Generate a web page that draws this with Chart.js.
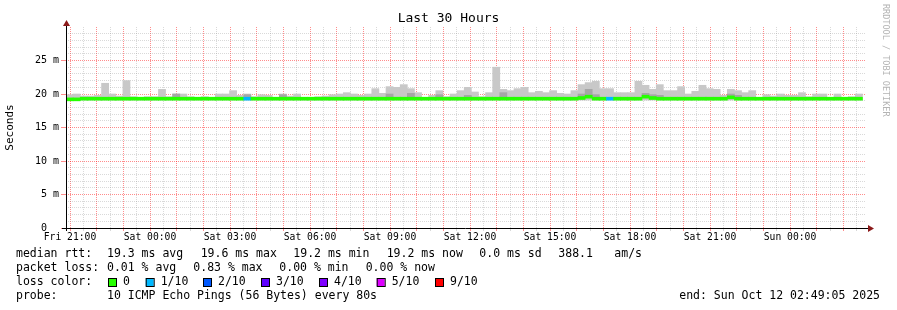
<!DOCTYPE html>
<html>
<head>
<meta charset="utf-8">
<script src="https://cdn.jsdelivr.net/npm/chart.js@4.4.1/dist/chart.umd.min.js"></script>
<style>
  html, body { margin: 0; padding: 0; background: #fff; }
  #wrap { width: 897px; height: 310px; }
</style>
</head>
<body>
<div id="wrap"><canvas id="chart" width="897" height="310"></canvas></div>
<script>
  // one value per 16 minute bin, counted from the graph start (Fri 20:51)
  const binMinutes = 16;
  const smokeHi = [
    19.9, 20.0, 19.7, 19.7, 19.8, 21.6, 20.0, 19.7, 22.0, 19.6,
    19.5, 19.6, 19.6, 20.7, 19.6, 20.0, 20.0, 19.6, 19.5, 19.6,
    19.5, 20.0, 20.0, 20.5, 19.8, 20.0, 19.6, 19.9, 19.8, 19.5,
    20.0, 19.7, 20.0, 19.5, 19.5, 19.6, 19.7, 19.9, 20.0, 20.2,
    20.0, 19.8, 20.0, 20.8, 20.1, 21.1, 21.0, 21.4, 20.8, 20.2,
    19.5, 19.8, 20.5, 19.6, 20.0, 20.5, 21.0, 20.3, 19.6, 20.2,
    24.0, 20.7, 20.5, 20.8, 21.0, 20.2, 20.4, 20.2, 20.5, 20.1,
    20.0, 20.5, 21.4, 21.7, 21.9, 20.8, 20.8, 20.2, 20.2, 20.2,
    21.9, 21.3, 20.7, 21.4, 20.5, 20.5, 21.1, 20.0, 20.4, 21.3,
    20.8, 20.7, 19.8, 20.7, 20.5, 20.2, 20.5, 19.5, 19.9, 19.7,
    20.0, 19.8, 19.8, 20.2, 19.6, 20.0, 20.0, 19.5, 20.0, 19.5,
    19.6, 20.0
  ];
  // darker inner smoke band, null where there is none
  const smokeDark = [
    null, null, null, null, null, null, null, null, null, null,
    null, null, null, null, null, 20.0, null, null, null, null,
    null, null, null, null, null, 19.9, null, null, null, null,
    19.9, null, null, null, null, null, null, null, null, null,
    null, null, null, null, null, 20.0, null, null, 20.1, null,
    null, null, 19.9, null, null, null, 19.8, null, null, null,
    null, 20.2, null, null, null, null, null, null, null, null,
    null, null, 20.0, 20.7, 19.9, null, null, null, null, null,
    null, 20.1, 19.9, 19.8, null, null, null, null, null, null,
    null, null, null, 20.0, 19.8, null, null, null, null, null,
    null, null, null, null, null, null, null, null, null, null,
    null, null
  ];
  const smokeLo = 19.1;
  const median = [
    19.2, 19.2, 19.3, 19.3, 19.3, 19.3, 19.3, 19.3, 19.3, 19.3,
    19.3, 19.3, 19.3, 19.3, 19.3, 19.3, 19.3, 19.3, 19.3, 19.3,
    19.3, 19.3, 19.3, 19.3, 19.3, 19.3, 19.3, 19.3, 19.3, 19.3,
    19.3, 19.3, 19.3, 19.3, 19.3, 19.3, 19.3, 19.3, 19.3, 19.3,
    19.3, 19.3, 19.3, 19.3, 19.3, 19.3, 19.3, 19.3, 19.3, 19.3,
    19.3, 19.3, 19.3, 19.3, 19.3, 19.3, 19.3, 19.3, 19.3, 19.3,
    19.3, 19.3, 19.3, 19.3, 19.3, 19.3, 19.3, 19.3, 19.3, 19.3,
    19.3, 19.3, 19.4, 19.6, 19.3, 19.3, 19.3, 19.3, 19.3, 19.3,
    19.3, 19.6, 19.4, 19.3, 19.3, 19.3, 19.3, 19.3, 19.3, 19.3,
    19.3, 19.3, 19.3, 19.5, 19.3, 19.3, 19.3, 19.3, 19.3, 19.3,
    19.3, 19.3, 19.3, 19.3, 19.3, 19.3, 19.3, 19.3, 19.3, 19.3,
    19.3, 19.3
  ];
  // lost pings out of 10 in each bin
  const lossCount = new Array(112).fill(0);
  lossCount[25] = 1;
  lossCount[76] = 1;

  const lossLabels = ['0', '1/10', '2/10', '3/10', '4/10', '5/10', '9/10'];
  const lossSteps = [0, 1, 2, 3, 4, 5, 9];
  const lossColors = ['#26ff00', '#00b8ff', '#0059ff', '#5e00ff', '#7e00ff', '#dd00ff', '#ff0000'];

  const timeLabels = ['Fri 21:00', 'Sat 00:00', 'Sat 03:00', 'Sat 06:00', 'Sat 09:00',
    'Sat 12:00', 'Sat 15:00', 'Sat 18:00', 'Sat 21:00', 'Sun 00:00'];
  const firstHour = 9;      // minutes from start to Fri 21:00
  const totalMinutes = 1800;
  const yLabels = { 0: '0  ', 5: '5 m', 10: '10 m', 15: '15 m', 20: '20 m', 25: '25 m' };

  function lossColor(n) {
    let c = lossColors[0];
    lossSteps.forEach((s, i) => { if (n >= s) c = lossColors[i]; });
    return c;
  }

  const mid = (i) => i * binMinutes + binMinutes / 2;
  const lightData = smokeHi.map((v, i) => ({ x: mid(i), y: [smokeLo, v] }));
  const darkData = [];
  smokeDark.forEach((v, i) => { if (v !== null) darkData.push({ x: mid(i), y: [median[i], v] }); });
  const medianData = median.map((v, i) => ({ x: mid(i), y: [v - 0.22, v + 0.22] }));

  const mono = '"DejaVu Sans Mono", monospace';
  const gridGray = 'rgba(128,128,128,0.3)';
  const gridRed = 'rgba(255,0,0,0.45)';
  const isHour = (v) => Math.abs((v - firstHour) % 60) < 0.01;

  const decor = {
    id: 'decor',
    afterDraw(chart) {
      const ctx = chart.ctx;
      const { left, right, top, bottom } = chart.chartArea;
      ctx.save();
      ctx.strokeStyle = '#000';
      ctx.lineWidth = 1;
      ctx.beginPath();
      ctx.moveTo(left - 4, bottom + 0.5);
      ctx.lineTo(right + 3, bottom + 0.5);
      ctx.moveTo(left + 0.5, bottom + 3);
      ctx.lineTo(left + 0.5, top - 3);
      ctx.stroke();
      ctx.fillStyle = '#8b1a1a';
      ctx.beginPath();
      ctx.moveTo(right + 8, bottom + 0.5);
      ctx.lineTo(right + 2, bottom - 3);
      ctx.lineTo(right + 2, bottom + 4);
      ctx.fill();
      ctx.beginPath();
      ctx.moveTo(left + 0.5, top - 7);
      ctx.lineTo(left - 3, top - 1);
      ctx.lineTo(left + 4, top - 1);
      ctx.fill();

      ctx.fillStyle = '#000';
      ctx.textBaseline = 'middle';
      ctx.textAlign = 'center';
      ctx.font = '13px ' + mono;
      ctx.fillText('Last 30 Hours', 448.5, 19);

      ctx.textAlign = 'left';
      ctx.font = '11.5px ' + mono;
      const rows = [
        [254, [[16, 'median rtt:'], [107, '19.3 ms avg'], [200.7, '19.6 ms max'], [293.3, '19.2 ms min'],
               [386.7, '19.2 ms now'], [479.3, '0.0 ms sd'], [558.3, '388.1'], [614.3, 'am/s']]],
        [268, [[16, 'packet loss:'], [107, '0.01 % avg'], [193.3, '0.83 % max'], [279.3, '0.00 % min'],
               [365.7, '0.00 % now']]],
        [282, [[16, 'loss color:']]],
        [296, [[16, 'probe:'], [107, '10 ICMP Echo Pings (56 Bytes) every 80s']]]
      ];
      rows.forEach(([y, parts]) => parts.forEach(([x, t]) => ctx.fillText(t, x, y)));

      const boxX = [108, 145.7, 203, 261, 319, 376.7, 435];
      lossLabels.forEach((lab, i) => {
        ctx.fillStyle = lossColors[i];
        ctx.fillRect(boxX[i], 278, 8, 8);
        ctx.strokeStyle = '#000';
        ctx.strokeRect(boxX[i] + 0.5, 278.5, 8, 8);
        ctx.fillStyle = '#000';
        ctx.fillText(lab, boxX[i] + 15, 282);
      });

      ctx.textAlign = 'right';
      ctx.fillText('end: Sun Oct 12 02:49:05 2025', 880, 296);

      ctx.save();
      ctx.translate(883, 4);
      ctx.rotate(Math.PI / 2);
      ctx.textAlign = 'left';
      ctx.textBaseline = 'alphabetic';
      ctx.font = '8.5px ' + mono;
      ctx.fillStyle = '#b4b4b4';
      ctx.fillText('RRDTOOL / TOBI OETIKER', 0, 0);
      ctx.restore();
      ctx.restore();
    }
  };

  new Chart(document.getElementById('chart'), {
    type: 'bar',
    data: {
      datasets: [
        { data: medianData, backgroundColor: median.map((v, i) => lossColor(lossCount[i])), order: 0 },
        { data: darkData, backgroundColor: '#a6a6a6', order: 1 },
        { data: lightData, backgroundColor: '#c8c8c8', order: 2 }
      ]
    },
    options: {
      responsive: false,
      animation: false,
      layout: { padding: { left: 0, right: 31, top: 27, bottom: 0 } },
      datasets: { bar: { grouped: false, barPercentage: 1, categoryPercentage: 1, borderWidth: 0 } },
      plugins: { legend: { display: false }, tooltip: { enabled: false }, title: { display: false } },
      scales: {
        x: {
          type: 'linear',
          min: 0,
          max: totalMinutes,
          offset: false,
          z: 1,
          afterFit(scale) { scale.height = 82; },
          afterBuildTicks(scale) {
            const t = [];
            for (let v = firstHour; v < totalMinutes; v += 30) t.push({ value: v });
            scale.ticks = t;
          },
          ticks: {
            autoSkip: false,
            maxRotation: 0,
            padding: 1,
            color: '#000',
            font: { family: mono, size: 9.7 },
            callback(v) {
              const k = (v - firstHour) / 180;
              return Number.isInteger(k) && timeLabels[k] ? timeLabels[k] : '';
            }
          },
          grid: {
            offset: false,
            tickLength: 3,
            color: (c) => (c.tick && isHour(c.tick.value) ? gridRed : gridGray),
            tickColor: (c) => (c.tick && isHour(c.tick.value) ? gridRed : gridGray)
          },
          border: { display: false, dash: [1, 1] }
        },
        y: {
          type: 'linear',
          min: 0,
          max: 30,
          z: 1,
          afterFit(scale) { scale.width = 66; },
          afterBuildTicks(scale) {
            const t = [];
            for (let v = 0; v < 30; v++) t.push({ value: v });
            scale.ticks = t;
          },
          ticks: {
            autoSkip: false,
            padding: 2,
            color: '#000',
            font: { family: mono, size: 10 },
            callback: (v) => yLabels[v] || ''
          },
          grid: {
            tickLength: 5,
            color: (c) => (c.tick.value === 0 ? 'rgba(0,0,0,0)' : (c.tick.value % 5 === 0 ? gridRed : gridGray)),
            tickColor: (c) => (c.tick.value % 5 === 0 ? gridRed : 'rgba(0,0,0,0)')
          },
          border: { display: false, dash: [1, 1] },
          title: {
            display: true,
            text: 'Seconds',
            color: '#000',
            font: { family: mono, size: 11 },
            padding: { top: 4, bottom: 0 }
          }
        }
      }
    },
    plugins: [decor]
  });
</script>
</body>
</html>
